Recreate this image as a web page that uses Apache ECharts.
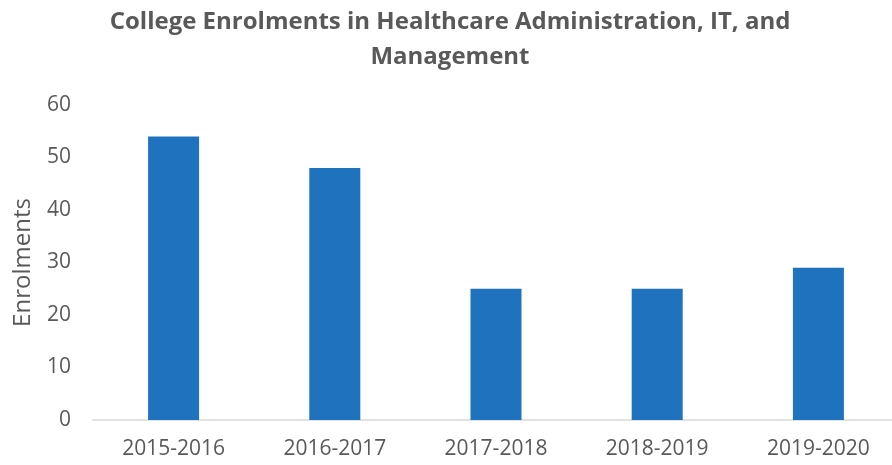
<!DOCTYPE html>
<html>
<head>
<meta charset="utf-8">
<script src="https://cdn.jsdelivr.net/npm/echarts@6/dist/echarts.min.js"></script>
<style>
  html, body { margin: 0; padding: 0; background: #fff; overflow: hidden; }
  /* the plot area runs a few px past the right edge in the original */
  #chart { width: 900px; height: 465px; }
</style>
</head>
<body>
<div id="chart"></div>
<script>
// 学年及报名人数
const years = ['2015-2016', '2016-2017', '2017-2018', '2018-2019', '2019-2020'];
const enrolments = [54, 48, 25, 25, 29];
const yTicks = [0, 10, 20, 30, 40, 50, 60];

const textColor = '#595959';
const font = '"Open Sans", "Noto Sans", sans-serif';

let chart = echarts.init(document.getElementById('chart'));
chart.setOption({
  animation: false,
  title: {
    text: 'College Enrolments in Healthcare Administration, IT, and\nManagement',
    left: 'center',
    top: 0,
    textStyle: {
      color: textColor,
      fontFamily: font,
      fontSize: 24,
      fontWeight: 'bold',
      lineHeight: 35
    }
  },
  grid: {
    left: 93,
    right: 1,
    top: 105,
    bottom: 45
  },
  xAxis: {
    type: 'category',
    data: years,
    axisLine: { lineStyle: { color: '#d9d9d9', width: 1.5 } },
    axisTick: { show: false },
    axisLabel: {
      color: textColor,
      fontFamily: font,
      fontSize: 21,
      margin: 19
    }
  },
  yAxis: {
    type: 'value',
    min: yTicks[0],
    max: yTicks[yTicks.length - 1],
    interval: 10,
    name: 'Enrolments',
    nameLocation: 'middle',
    nameGap: 58,
    nameTextStyle: {
      color: textColor,
      fontFamily: font,
      fontSize: 24
    },
    splitLine: { show: false },
    axisLine: { show: false },
    axisTick: { show: false },
    axisLabel: {
      color: textColor,
      fontFamily: font,
      fontSize: 21,
      margin: 22
    }
  },
  series: [
    {
      type: 'bar',
      data: enrolments,
      barWidth: 51,
      itemStyle: { color: '#1f72bd' }
    }
  ]
});
</script>
</body>
</html>
